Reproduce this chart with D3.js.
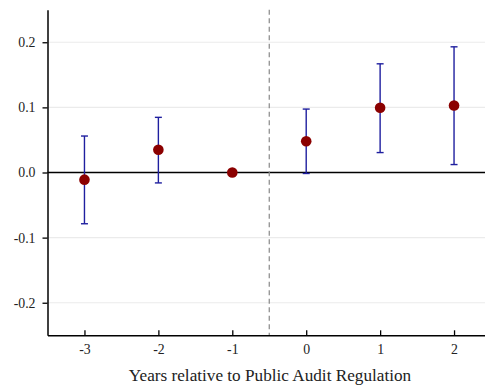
<!DOCTYPE html>
<html><head><meta charset="utf-8">
<script src="https://cdn.jsdelivr.net/npm/d3@7"></script>
<style>body{margin:0;background:#fff}svg{display:block}</style>
</head><body>
<svg id="c" width="485" height="388"></svg>
<script>
const years = [-3, -2, -1, 0, 1, 2];
const estimates = [-0.011, 0.035, 0.0, 0.048, 0.0995, 0.103];
const ciLower = [-0.0787, -0.016, null, -0.0015, 0.0306, 0.0122];
const ciUpper = [0.056, 0.0847, null, 0.0974, 0.1669, 0.193];
const yTicks = [-0.2, -0.1, 0.0, 0.1, 0.2];
const yTickLabels = ["-0.2", "-0.1", "0.0", "0.1", "0.2"];
const xTickLabels = ["-3", "-2", "-1", "0", "1", "2"];
const eventLine = -0.5;
const xTitle = "Years relative to Public Audit Regulation";

const svg = d3.select("#c");
const font = "Liberation Serif, Times New Roman, serif";
const x = d3.scaleLinear().domain([-3.5, 2.5]).range([47.5, 491]);
const y = d3.scaleLinear().domain([-0.25, 0.25]).range([335.3, 9.7]);

// gridlines
svg.append("g").selectAll("line").data(yTicks).join("line")
  .attr("x1", x(-3.5)).attr("x2", 485)
  .attr("y1", d => y(d)).attr("y2", d => y(d))
  .attr("stroke", "#ebebeb").attr("stroke-width", 1.2);

// zero line
svg.append("line").attr("x1", x(-3.5)).attr("x2", 485)
  .attr("y1", y(0)).attr("y2", y(0)).attr("stroke", "#000").attr("stroke-width", 1.3);

// event line
svg.append("line").attr("x1", x(eventLine)).attr("x2", x(eventLine))
  .attr("y1", y(0.25)).attr("y2", y(-0.25))
  .attr("stroke", "#888").attr("stroke-width", 1.2).attr("stroke-dasharray", "5,3.5");

// axes
const yAxis = d3.axisLeft(y).tickValues(yTicks).tickFormat((d, i) => yTickLabels[i]).tickSize(5).tickSizeOuter(0);
const gy = svg.append("g").attr("transform", `translate(${x(-3.5)},0)`).call(yAxis)
  .attr("font-family", font).attr("font-size", 13.8);
gy.select(".domain").attr("stroke-width", 1.5);
gy.selectAll(".tick line").attr("stroke-width", 1.3);
gy.selectAll("text").attr("fill", "#222").attr("x", -12);

const xAxis = d3.axisBottom(x).tickValues(years).tickFormat((d, i) => xTickLabels[i]).tickSize(-5).tickSizeOuter(0);
const gx = svg.append("g").attr("transform", `translate(0,${y(-0.25)})`).call(xAxis)
  .attr("font-family", font).attr("font-size", 13.8);
gx.select(".domain").attr("stroke-width", 1.5);
gx.selectAll(".tick line").attr("stroke-width", 1.3);
gx.selectAll("text").attr("fill", "#222").attr("y", 9);

svg.append("text").attr("x", 270).attr("y", 381).attr("text-anchor", "middle")
  .attr("font-family", font).attr("font-size", 17.2).attr("fill", "#222").text(xTitle);

// error bars
const data = years.map((yr, i) => ({yr, est: estimates[i], lo: ciLower[i], hi: ciUpper[i]}));
const eb = svg.append("g").selectAll("g").data(data.filter(d => d.lo !== null)).join("g")
  .attr("stroke", "#1f1f9f").attr("stroke-width", 1.4);
eb.append("line").attr("x1", d => x(d.yr)).attr("x2", d => x(d.yr)).attr("y1", d => y(d.lo)).attr("y2", d => y(d.hi));
eb.append("line").attr("x1", d => x(d.yr) - 3.5).attr("x2", d => x(d.yr) + 3.5).attr("y1", d => y(d.lo)).attr("y2", d => y(d.lo));
eb.append("line").attr("x1", d => x(d.yr) - 3.5).attr("x2", d => x(d.yr) + 3.5).attr("y1", d => y(d.hi)).attr("y2", d => y(d.hi));

svg.append("g").selectAll("circle").data(data).join("circle")
  .attr("cx", d => x(d.yr)).attr("cy", d => y(d.est)).attr("r", 5.3).attr("fill", "#8b0000");
</script>
</body></html>
